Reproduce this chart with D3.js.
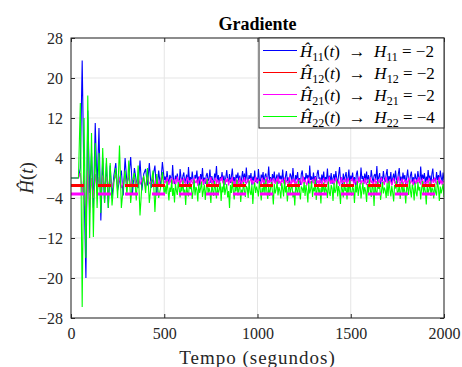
<!DOCTYPE html>
<html>
<head>
<meta charset="utf-8">
<script src="https://cdn.jsdelivr.net/npm/d3@7"></script>
<style>
  html, body { margin: 0; padding: 0; background: #fff; }
  svg { display: block; }
  svg text { font-family: "Liberation Serif", "Times New Roman", "DejaVu Serif", serif; }
</style>
</head>
<body>
<div id="chart"></div>
<script>
// tempo (s): 0, 40, every 10 s up to 500, then every 5 s up to 2000
const tempo = [0, 40].concat(d3.range(50, 501, 10), d3.range(505, 2001, 5));

// H11 estimate (blue)
const h11 = [0, 0,
  2, 23.5, -2, -20, 13.5, -3, 5, -6, 11, -2, 10, -8.5, 4, -5, 3, -6,
  2.5, -4, 0.5, 3, -2.5, -0.5, 1.5, -3.5, 4, -1, 0.2, 4.2, -3, 2, -0.6, -2, 3.5, -2.5, 0.8, 1.8, -1.5, 3, -2, 0.4, 2.5, -3.5, 1.5, -1.8, 3.2, -0.4,
  0.3, -0.8, 1.4, -0.2, -1.1, 0.6, 0.1, -0.9, 2.6, -0.4,
  -1.2, 0.5, -0.3, 0.9, -0.7, -1.4, 1.8, 0.0, -0.6, 0.4,
  1.1, -1.0, -0.2, 0.7, -1.3, 2.2, -0.5, 0.2, -0.8, 1.3,
  -0.4, -1.1, 0.6, -0.1, 1.5, -0.9, 0.3, -1.5, 0.8, -0.3,
  2.0, -0.7, 0.1, -1.2, 0.5, 1.0, -0.6, -0.2, 1.7, -1.0,
  0.4, -0.5, -1.3, 0.9, 0.0, 2.4, -0.8, 0.6, -1.1, 0.2,
  -0.3, 1.2, -0.9, 0.5, -1.4, 0.1, 1.6, -0.4, -0.7, 0.8,
  -1.0, 0.3, 1.9, -0.6, 0.2, -1.2, 0.7, -0.1, 1.1, -0.8,
  0.5, -1.3, 0.0, 1.4, -0.5, 0.9, -1.0, 2.1, -0.3, -0.9,
  0.6, -0.2, 1.0, -1.4, 0.3, -0.6, 1.5, -0.8, 0.1, -1.1,
  1.8, -0.4, -0.9, 0.7, -0.1, 1.2, -1.3, 0.4, 0.9, -0.7,
  -0.2, 2.3, -0.6, 0.2, -1.1, 0.8, -0.4, 1.3, -1.0, 0.0,
  0.7, -1.2, 1.1, -0.3, 0.5, -0.8, 1.7, -0.5, -1.3, 0.3,
  1.4, -0.6, 0.1, -1.0, 0.9, 0.4, -0.7, 2.0, -0.2, -1.1,
  0.6, -0.3, 1.2, -0.9, 0.0, -1.4, 0.8, 1.5, -0.5, 0.2,
  -0.8, 1.0, -0.1, 0.6, -1.2, 2.5, -0.4, 0.3, -0.9, 1.1,
  -0.6, 0.4, -1.3, 0.9, 1.6, -0.2, 0.1, -1.0, 0.7, -0.5,
  1.3, -0.8, 0.2, -0.3, 1.9, -1.1, 0.5, -0.6, 1.0, -1.2,
  0.0, 0.8, -0.7, 1.4, -0.2, -1.0, 0.6, 2.2, -0.4, 0.1,
  -1.3, 0.9, -0.5, 0.3, 1.2, -0.8, -0.1, 1.7, -1.1, 0.5,
  -0.3, 1.1, -0.9, 0.2, -1.4, 0.7, 1.5, -0.6, 0.0, -0.8,
  2.1, -0.2, 0.4, -1.2, 0.9, -0.5, 1.3, -1.0, 0.6, -0.3,
  -0.7, 1.6, 0.1, -1.1, 0.5, 0.8, -0.4, 2.4, -0.9, 0.2,
  1.0, -1.3, 0.3, -0.6, 1.4, -0.1, -0.8, 0.7, 1.8, -1.0,
  0.4, -0.5, 1.2, -1.4, 0.0, 0.9, -0.7, 1.5, -0.2, -1.1,
  0.8, 2.0, -0.6, 0.3, -1.0, 1.1, -0.3, 0.6, -1.2, 0.1,
  1.7, -0.4, -0.9, 0.5, 1.3, -0.8, 0.2, -1.3, 0.9, -0.1,
  -0.6, 1.4, 0.0, -1.0, 2.3, -0.5, 0.7, -0.2, 1.0, -1.2,
  0.3, -0.7, 1.6, -0.3, 0.5, -1.1, 0.8, 1.9, -0.6, 0.0,
  -0.9, 1.2, -0.4, 0.6, -1.3, 1.5, 0.2, -0.8, 1.1, -0.5];

// H21 estimate (magenta)
const h21 = [0, 0,
  1, -3, 0.5, -9, 1.5, -7, 0, -4, 0.8, -3, 0.2, -2.5, 0.5, -2, 0.3, -1.8,
  0.2, -1.9, -0.6, 0.6, -1.5, 0.1, -2.0, -0.8, 0.4, -1.4, 0.8, -1.7, -0.5, 0.0, -1.6, 0.5, -1.3, -0.4, 0.2, -1.8, 0.4, -1.2, -0.6, 0.1, -1.5, 0.3, -1.4, -0.3, 0.6, -1.1,
  -0.5, -1.1, 0.2, -0.8, -1.4, -0.3, -0.9, 0.1, -1.2, -0.6,
  -0.2, -1.5, -0.7, 0.3, -1.0, -0.4, -1.3, -0.1, -0.8, -1.2,
  0.0, -0.9, -1.4, -0.5, 0.2, -1.1, -0.6, -1.5, -0.2, -0.8,
  -1.3, 0.1, -0.7, -1.0, -0.3, -1.6, -0.4, 0.3, -1.2, -0.9,
  -0.1, -1.4, -0.6, -0.2, -1.1, 0.0, -0.8, -1.3, -0.5, 0.2,
  -1.0, -0.4, -1.5, -0.7, 0.1, -1.2, -0.3, -0.9, -1.4, -0.1,
  -0.6, 0.3, -1.1, -0.5, -1.3, -0.2, -0.8, 0.0, -1.5, -0.7,
  -0.3, -1.0, 0.2, -1.2, -0.6, -1.4, -0.1, -0.9, -0.4, -1.3,
  0.1, -0.8, -1.5, -0.3, -1.0, 0.2, -0.7, -1.2, -0.5, -0.2,
  -1.4, -0.6, 0.0, -1.1, -0.4, -1.3, -0.8, 0.3, -1.0, -0.5,
  -0.2, -1.2, -0.7, -1.5, 0.1, -0.9, -0.3, -1.1, -0.6, 0.2,
  -1.3, -0.4, -1.0, -0.1, -0.8, -1.4, 0.0, -0.6, -1.2, -0.3,
  -0.9, 0.3, -1.1, -0.5, -1.6, -0.2, -0.7, -1.0, 0.1, -1.3,
  -0.4, -0.8, -1.2, 0.2, -0.6, -1.5, -0.3, -0.9, -0.1, -1.1,
  -0.7, -1.3, 0.0, -1.0, -0.5, -0.2, -1.4, -0.8, 0.3, -1.2,
  -0.3, -0.9, -1.5, -0.4, 0.1, -1.1, -0.6, -1.3, -0.2, -0.8,
  -1.2, 0.2, -0.7, -1.0, -0.4, -1.4, -0.1, -0.9, -1.5, -0.5,
  0.0, -1.1, -0.6, -0.3, -1.3, -0.8, 0.3, -1.2, -0.5, -1.0,
  -0.2, -1.4, -0.7, 0.1, -0.9, -1.1, -0.4, -1.6, -0.6, 0.2,
  -1.0, -0.5, -1.3, -0.1, -0.8, -1.2, 0.0, -0.7, -1.4, -0.3,
  -0.6, 0.1, -1.1, -0.9, -0.2, -1.5, -0.5, -1.0, 0.3, -0.8,
  -1.3, -0.4, -0.7, -1.2, 0.0, -0.9, -1.4, -0.3, -0.6, -1.1,
  0.2, -1.0, -0.5, -1.3, -0.8, -0.1, -1.2, -0.6, -1.5, -0.2,
  -0.9, -0.4, 0.1, -1.1, -0.7, -1.4, -0.3, 0.2, -1.0, -0.6,
  -1.2, -0.2, -0.8, -1.5, -0.5, 0.0, -1.1, -0.7, -1.3, -0.4,
  0.3, -0.9, -1.2, -0.6, -0.1, -1.4, -0.8, -0.3, -1.0, -0.5,
  -1.3, 0.1, -0.7, -1.1, -0.4, -0.9, -1.5, -0.2, -0.6, -1.2,
  -0.3, -1.0, 0.2, -0.8, -1.3, -0.5, -0.1, -1.4, -0.7, -0.9,
  -1.1, -0.4, -1.2, 0.0, -0.6, -1.5, -0.8, -0.2, -1.0, 0.1,
  -0.7, -1.3, -0.5, -0.9, 0.2, -1.1, -0.4, -1.4, -0.6, -0.8];

// H22 estimate (green)
const h22 = [0, 0,
  15, -25.8, 12, -16, 16.5, -12, 9, -11.8, 7, -6, 5, -7, 6, -5, 4, -6,
  3, -5.5, -1, 2, -4, 6.5, -6, -2, 1.5, -3.5, 3.5, -5, -0.5, 1, -4.5, 2.5, -7.5, -1.5, 0.5, -3, 2, -5, -1, 1.5, -6.8, 0.8, -4, -2, 1.2, -3.5,
  -1.5, -3.2, -0.6, -2.4, -4.5, -1.9, -2.8, -0.3, -3.6, -2.0,
  -4.9, -1.2, -2.5, -3.4, -0.8, -2.1, -3.9, -1.6, -2.7, -0.5,
  -3.1, -2.3, -5.4, -1.4, -2.9, -3.7, -0.9, -2.2, -1.7, -4.2,
  -2.6, -0.4, -3.5, -1.8, -2.4, -4.7, -1.1, -3.0, -2.0, -0.7,
  -3.8, -2.5, -1.3, -4.4, -2.1, -0.2, -3.3, -1.9, -2.8, -5.0,
  -1.0, -2.6, -3.6, -0.6, -2.3, -4.1, -1.5, -3.2, -2.4, -0.9,
  -4.6, -1.7, -2.9, -0.4, -3.4, -2.2, -1.2, -3.9, -2.6, -6.0,
  -1.4, -3.0, -0.7, -2.5, -4.3, -1.8, -2.7, -0.3, -3.5, -2.1,
  -1.1, -4.8, -2.3, -3.1, -0.8, -2.6, -3.8, -1.6, -2.0, -4.0,
  -0.5, -2.8, -3.4, -1.3, -5.2, -2.2, -0.9, -3.0, -1.7, -2.5,
  -3.7, -0.6, -2.4, -4.5, -1.9, -2.9, -1.0, -3.3, -0.2, -2.7,
  -4.2, -1.5, -3.6, -2.0, -0.8, -2.8, -5.3, -1.2, -3.1, -2.3,
  -0.7, -3.5, -1.8, -2.6, -4.1, -1.0, -2.2, -3.7, -0.4, -2.9,
  -1.6, -4.7, -2.5, -0.9, -3.2, -2.0, -1.3, -3.9, -2.7, -5.5,
  -1.1, -2.4, -3.4, -0.5, -2.8, -4.3, -1.7, -2.1, -3.0, -0.8,
  -3.6, -1.4, -2.6, -4.9, -1.0, -3.1, -2.3, -0.6, -3.8, -1.9,
  -2.7, -0.3, -4.4, -2.2, -1.5, -3.5, -2.0, -5.1, -1.2, -2.8,
  -0.9, -3.3, -1.8, -2.5, -4.0, -0.7, -2.9, -3.6, -1.4, -2.1,
  -4.6, -1.0, -3.0, -2.4, -0.5, -3.7, -1.6, -2.7, -5.2, -1.3,
  -2.2, -3.9, -0.8, -2.6, -1.9, -4.3, -1.1, -3.2, -0.4, -2.8,
  -3.5, -1.7, -2.3, -5.0, -1.4, -2.9, -0.6, -3.6, -2.1, -1.0,
  -4.1, -2.5, -0.9, -3.3, -1.8, -2.7, -4.8, -1.2, -3.0, -0.3,
  -2.4, -3.8, -1.5, -2.0, -5.6, -1.1, -2.8, -3.4, -0.7, -2.2,
  -1.3, -4.4, -2.6, -0.8, -3.1, -1.9, -2.5, -4.0, -1.0, -3.6,
  -0.6, -2.3, -3.7, -1.6, -2.9, -4.7, -1.4, -2.1, -0.5, -3.3,
  -2.7, -1.2, -4.2, -2.4, -0.9, -3.5, -1.7, -2.8, -5.1, -1.5,
  -2.0, -3.4, -0.4, -2.6, -3.9, -1.3, -2.2, -4.5, -1.0, -2.9,
  -3.7, -0.8, -2.5, -1.8, -4.3, -2.1, -0.6, -3.2, -1.6, -2.7,
  -5.3, -1.4, -3.0, -2.3, -0.7, -3.6, -1.9, -2.4, -4.1, -1.1,
  -2.8, -3.5, -0.5, -2.0, -4.6, -1.7, -3.1, -2.2, -1.2, -3.8];

// dashed reference levels
const refLevels = [-1.5, -3.2];
const refColors = ['#ff0000', '#ff00ff'];

const xTicks = [0, 500, 1000, 1500, 2000];
const yTicks = [-28, -20, -12, -4, 4, 12, 20, 28];

const legendSubs = ['11', '12', '21', '22'];
const legendVals = ['2', '2', '2', '4'];
const legendColors = ['#0000ff', '#ff0000', '#ff00ff', '#00ff00'];

const W = 462, H = 367;
const margin = { top: 38, right: 18, bottom: 49, left: 71 };
const width = W - margin.left - margin.right;
const height = H - margin.top - margin.bottom;

const svg = d3.select('#chart').append('svg')
  .attr('width', W)
  .attr('height', H);

const g = svg.append('g')
  .attr('transform', `translate(${margin.left},${margin.top})`);

const x = d3.scaleLinear().domain([0, 2000]).range([0, width]);
const y = d3.scaleLinear().domain([-28, 28]).range([height, 0]);

// grid
g.append('g').selectAll('line').data(xTicks).enter().append('line')
  .attr('x1', d => x(d)).attr('x2', d => x(d))
  .attr('y1', 0).attr('y2', height)
  .attr('stroke', '#e5e5e5').attr('stroke-width', 1);
g.append('g').selectAll('line').data(yTicks).enter().append('line')
  .attr('y1', d => y(d)).attr('y2', d => y(d))
  .attr('x1', 0).attr('x2', width)
  .attr('stroke', '#e5e5e5').attr('stroke-width', 1);

svg.append('defs').append('clipPath').attr('id', 'clip')
  .append('rect').attr('width', width).attr('height', height);

const plot = g.append('g').attr('clip-path', 'url(#clip)');

const line = d3.line()
  .x((d, i) => x(tempo[i]))
  .y(d => y(d));

[[h11, '#0000ff'], [h21, '#ff00ff'], [h22, '#00ff00']].forEach(([s, c]) => {
  plot.append('path')
    .datum(s)
    .attr('fill', 'none')
    .attr('stroke', c)
    .attr('stroke-width', 1.1)
    .attr('stroke-linejoin', 'bevel')
    .attr('d', line);
});

// dashed reference lines
refLevels.forEach((v, i) => {
  plot.append('line')
    .attr('x1', x(0)).attr('x2', x(2000))
    .attr('y1', y(v)).attr('y2', y(v))
    .attr('stroke', refColors[i])
    .attr('stroke-width', 3)
    .attr('stroke-dasharray', '13,14');
});

// axes (MATLAB style, ticks inside, on all sides)
const axisColor = '#262626';
const tickFont = 16;
g.append('g')
  .attr('transform', `translate(0,${height})`)
  .call(d3.axisBottom(x).tickValues(xTicks).tickSize(-4).tickPadding(10).tickFormat(d3.format('d')))
  .call(a => a.attr('font-family', null).select('.domain').remove())
  .call(a => a.selectAll('line').attr('stroke', axisColor))
  .call(a => a.selectAll('text').attr('fill', axisColor).attr('font-size', tickFont));
g.append('g')
  .call(d3.axisTop(x).tickValues(xTicks).tickSize(-4).tickFormat(''))
  .call(a => a.select('.domain').remove())
  .call(a => a.selectAll('line').attr('stroke', axisColor));
g.append('g')
  .call(d3.axisLeft(y).tickValues(yTicks).tickSize(-4).tickPadding(8).tickFormat(d3.format('d')))
  .call(a => a.attr('font-family', null).select('.domain').remove())
  .call(a => a.selectAll('line').attr('stroke', axisColor))
  .call(a => a.selectAll('text').attr('fill', axisColor).attr('font-size', tickFont));
g.append('g')
  .attr('transform', `translate(${width},0)`)
  .call(d3.axisRight(y).tickValues(yTicks).tickSize(-4).tickFormat(''))
  .call(a => a.select('.domain').remove())
  .call(a => a.selectAll('line').attr('stroke', axisColor));

g.append('rect')
  .attr('width', width).attr('height', height)
  .attr('fill', 'none').attr('stroke', axisColor).attr('stroke-width', 1);

// title
svg.append('text')
  .attr('x', margin.left + width / 2).attr('y', 30)
  .attr('text-anchor', 'middle')
  .attr('font-size', 18).attr('font-weight', 'bold')
  .attr('fill', '#000')
  .text('Gradiente');

// x label
svg.append('text')
  .attr('x', margin.left + width / 2).attr('y', 364)
  .attr('text-anchor', 'middle')
  .attr('font-size', 19)
  .attr('letter-spacing', 1)
  .attr('fill', '#262626')
  .text('Tempo (segundos)');

// y label
const yl = svg.append('text')
  .attr('transform', `translate(33,${margin.top + height / 2}) rotate(-90)`)
  .attr('text-anchor', 'middle')
  .attr('font-size', 19)
  .attr('fill', '#262626');
yl.append('tspan').attr('font-style', 'italic').text('Ĥ');
yl.append('tspan').text('(');
yl.append('tspan').attr('font-style', 'italic').text('t');
yl.append('tspan').text(')');

// legend
const lg = svg.append('g').attr('transform', 'translate(259,38)');
lg.append('rect')
  .attr('width', 185).attr('height', 90)
  .attr('fill', '#fff').attr('stroke', axisColor).attr('stroke-width', 1);

legendSubs.forEach((sub, i) => {
  const yy = 12.5 + i * 22;
  lg.append('line')
    .attr('x1', 4).attr('x2', 38)
    .attr('y1', yy).attr('y2', yy)
    .attr('stroke', legendColors[i]).attr('stroke-width', 1);
  const t = lg.append('text')
    .attr('x', 41).attr('y', yy + 6)
    .attr('font-size', 17).attr('fill', '#000');
  t.append('tspan').attr('font-style', 'italic').text('Ĥ');
  t.append('tspan').attr('font-size', 12).attr('dy', 4).text(sub);
  t.append('tspan').attr('dy', -4).text('(');
  t.append('tspan').attr('font-style', 'italic').text('t');
  t.append('tspan').text(')\u2002→\u2002');
  t.append('tspan').attr('font-style', 'italic').text('H');
  t.append('tspan').attr('font-size', 12).attr('dy', 4).text(sub);
  t.append('tspan').attr('dy', -4).text(' = −' + legendVals[i]);
});
</script>
</body>
</html>
